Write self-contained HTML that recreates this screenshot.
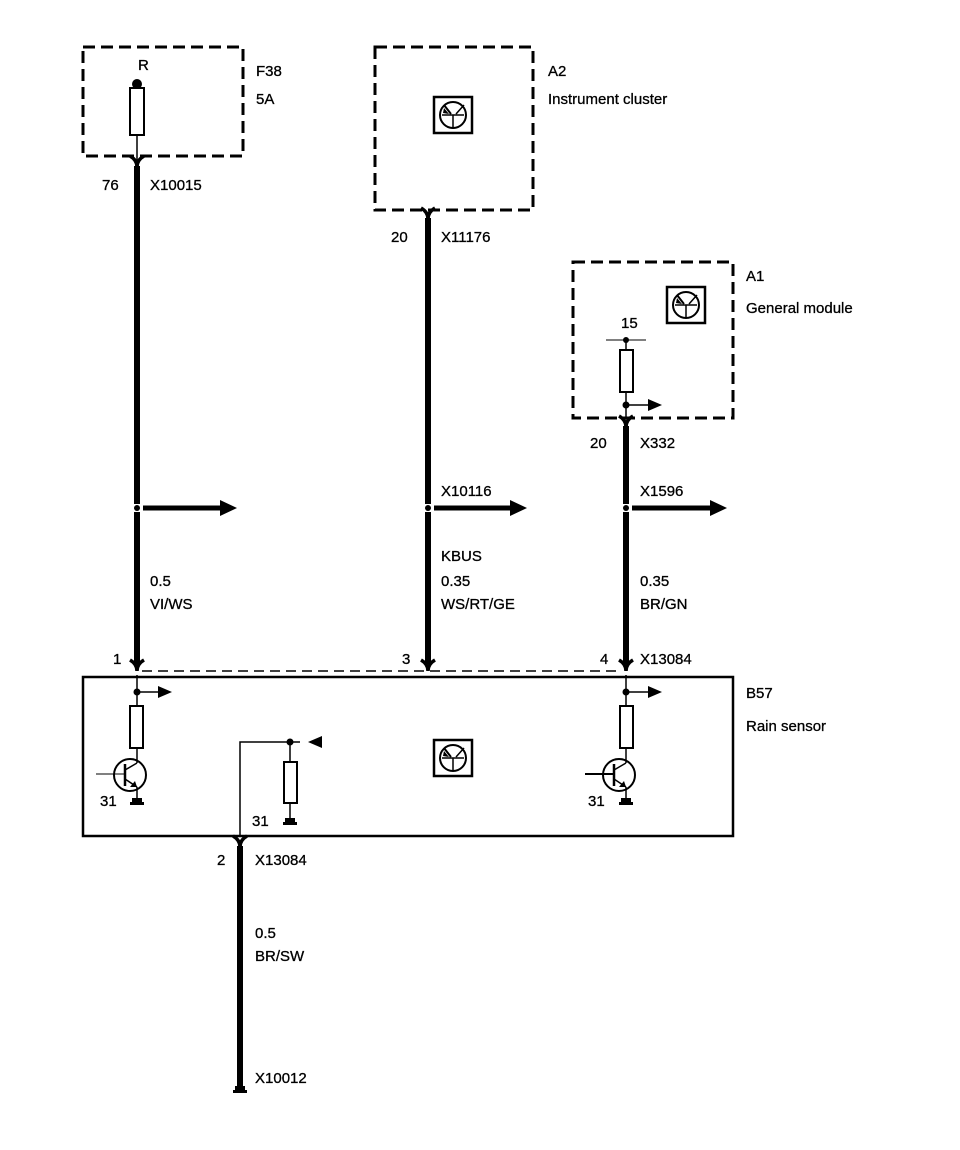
<!DOCTYPE html>
<html><head><meta charset="utf-8"><style>
html,body{margin:0;padding:0;background:#fff;}
svg{display:block;}
text{font-family:"Liberation Sans",sans-serif;font-size:15px;fill:#000;stroke:#000;stroke-width:0.3px;}
</style></head><body>
<svg width="960" height="1150" viewBox="0 0 960 1150" xmlns="http://www.w3.org/2000/svg">
<defs>
<g id="icon">
  <rect x="0" y="0" width="38" height="36" fill="none" stroke="#000" stroke-width="2.5"/>
  <circle cx="19" cy="18" r="13" fill="none" stroke="#000" stroke-width="2"/>
  <line x1="8" y1="18" x2="30" y2="18" stroke="#000" stroke-width="1.5"/>
  <line x1="19" y1="18" x2="19" y2="31" stroke="#000" stroke-width="1.5"/>
  <line x1="10" y1="8" x2="17" y2="17" stroke="#000" stroke-width="2"/>
  <line x1="30" y1="8" x2="22" y2="17" stroke="#000" stroke-width="1.5"/>
  <polygon points="10,11 15,17 9,16" fill="#000"/>
</g>
<g id="conn">
  <path d="M-7,-6 Q0,-2 0,5 Q0,-2 7,-6" fill="none" stroke="#000" stroke-width="3.5"/>
</g>
<g id="splice">
  <rect x="-4" y="-4" width="8" height="8" fill="#fff"/>
  <circle cx="0" cy="0" r="3" fill="#000"/>
</g>
</defs>
<g fill="none" stroke="#000">
  <rect x="83" y="47" width="160" height="109" stroke-width="3" stroke-dasharray="12,6"/>
  <rect x="375" y="47" width="158" height="163" stroke-width="3" stroke-dasharray="12,6"/>
  <rect x="573" y="262" width="160" height="156" stroke-width="3" stroke-dasharray="12,6"/>
  <rect x="83" y="677" width="650" height="159" stroke-width="2.5"/>
  <line x1="142" y1="671" x2="620" y2="671" stroke-width="1.5" stroke-dasharray="10,6"/>
  <rect x="130" y="88" width="14" height="47" stroke-width="2"/>
  <line x1="137" y1="135" x2="137" y2="160" stroke-width="1.5"/>
  <line x1="137" y1="166" x2="137" y2="664" stroke-width="6"/>
  <line x1="428" y1="218" x2="428" y2="664" stroke-width="6"/>
  <line x1="626" y1="426" x2="626" y2="664" stroke-width="6"/>
  <line x1="240" y1="846" x2="240" y2="1088" stroke-width="6"/>
  <line x1="143" y1="508" x2="222" y2="508" stroke-width="5"/>
  <line x1="434" y1="508" x2="512" y2="508" stroke-width="5"/>
  <line x1="632" y1="508" x2="712" y2="508" stroke-width="5"/>
  <line x1="606" y1="340" x2="646" y2="340" stroke-width="1"/>
  <line x1="626" y1="340" x2="626" y2="350" stroke-width="1.5"/>
  <rect x="620" y="350" width="13" height="42" stroke-width="2"/>
  <line x1="626" y1="392" x2="626" y2="418" stroke-width="1.5"/>
  <line x1="626" y1="405" x2="650" y2="405" stroke-width="1.5"/>
  <line x1="137" y1="675" x2="137" y2="706" stroke-width="1.5"/>
  <line x1="137" y1="692" x2="160" y2="692" stroke-width="1.5"/>
  <rect x="130" y="706" width="13" height="42" stroke-width="2"/>
  <line x1="137" y1="748" x2="137" y2="763" stroke-width="1.5"/>
  <circle cx="130" cy="775" r="16" stroke-width="2"/>
  <line x1="96" y1="774" x2="125" y2="774" stroke-width="1"/>
  <line x1="125" y1="764" x2="125" y2="786" stroke-width="2.5"/>
  <line x1="125" y1="770" x2="137" y2="763" stroke-width="1.5"/>
  <line x1="125" y1="779" x2="137" y2="787" stroke-width="1.5"/>
  <line x1="137" y1="787" x2="137" y2="800" stroke-width="1.5"/>
  <polyline points="240,836 240,742 300,742" stroke-width="1.5"/>
  <line x1="290" y1="742" x2="290" y2="762" stroke-width="1.5"/>
  <rect x="284" y="762" width="13" height="41" stroke-width="2"/>
  <line x1="290" y1="803" x2="290" y2="820" stroke-width="1.5"/>
  <line x1="626" y1="675" x2="626" y2="706" stroke-width="1.5"/>
  <line x1="626" y1="692" x2="650" y2="692" stroke-width="1.5"/>
  <rect x="620" y="706" width="13" height="42" stroke-width="2"/>
  <line x1="626" y1="748" x2="626" y2="763" stroke-width="1.5"/>
  <circle cx="619" cy="775" r="16" stroke-width="2"/>
  <line x1="585" y1="774" x2="614" y2="774" stroke-width="2"/>
  <line x1="614" y1="764" x2="614" y2="786" stroke-width="2.5"/>
  <line x1="614" y1="770" x2="626" y2="763" stroke-width="1.5"/>
  <line x1="614" y1="779" x2="626" y2="787" stroke-width="1.5"/>
  <line x1="626" y1="787" x2="626" y2="800" stroke-width="1.5"/>
</g>
<use href="#splice" x="137" y="508"/>
<use href="#splice" x="428" y="508"/>
<use href="#splice" x="626" y="508"/>
<g fill="#000">
  <circle cx="137" cy="84" r="5"/>
  <polygon points="220,500 237,508 220,516"/>
  <polygon points="510,500 527,508 510,516"/>
  <polygon points="710,500 727,508 710,516"/>
  <circle cx="626" cy="340" r="3"/><circle cx="626" cy="405" r="3.5"/>
  <polygon points="648,399 662,405 648,411"/>
  <circle cx="137" cy="692" r="3.5"/><polygon points="158,686 172,692 158,698"/>
  <circle cx="626" cy="692" r="3.5"/><polygon points="648,686 662,692 648,698"/>
  <circle cx="290" cy="742" r="3.5"/><polygon points="322,736 308,742 322,748"/>
  <rect x="132" y="798" width="10" height="5"/><rect x="130" y="802" width="14" height="3"/>
  <rect x="621" y="798" width="10" height="5"/><rect x="619" y="802" width="14" height="3"/>
  <rect x="285" y="818" width="10" height="5"/><rect x="283" y="822" width="14" height="3"/>
  <rect x="235" y="1086" width="10" height="5"/><rect x="233" y="1090" width="14" height="3"/>
  <polygon points="137,787 130,787 135,781"/>
  <polygon points="626,787 619,787 624,781"/>
</g>
<use href="#conn" x="137" y="162"/>
<use href="#conn" x="428" y="214"/>
<use href="#conn" x="626" y="422"/>
<use href="#conn" x="137" y="666"/>
<use href="#conn" x="428" y="666"/>
<use href="#conn" x="626" y="666"/>
<use href="#conn" x="240" y="842"/>
<use href="#icon" x="434" y="97"/>
<use href="#icon" x="667" y="287"/>
<use href="#icon" x="434" y="740"/>
<g>
  <text x="138" y="70">R</text>
  <text x="256" y="76">F38</text>
  <text x="256" y="104">5A</text>
  <text x="102" y="190">76</text>
  <text x="150" y="190">X10015</text>
  <text x="548" y="76">A2</text>
  <text x="548" y="104">Instrument cluster</text>
  <text x="391" y="242">20</text>
  <text x="441" y="242">X11176</text>
  <text x="746" y="281">A1</text>
  <text x="746" y="313">General module</text>
  <text x="621" y="328">15</text>
  <text x="590" y="448">20</text>
  <text x="640" y="448">X332</text>
  <text x="441" y="496">X10116</text>
  <text x="640" y="496">X1596</text>
  <text x="441" y="561">KBUS</text>
  <text x="150" y="586">0.5</text>
  <text x="150" y="609">VI/WS</text>
  <text x="441" y="586">0.35</text>
  <text x="441" y="609">WS/RT/GE</text>
  <text x="640" y="586">0.35</text>
  <text x="640" y="609">BR/GN</text>
  <text x="113" y="664">1</text>
  <text x="402" y="664">3</text>
  <text x="600" y="664">4</text>
  <text x="640" y="664">X13084</text>
  <text x="746" y="698">B57</text>
  <text x="746" y="731">Rain sensor</text>
  <text x="100" y="806">31</text>
  <text x="252" y="826">31</text>
  <text x="588" y="806">31</text>
  <text x="217" y="865">2</text>
  <text x="255" y="865">X13084</text>
  <text x="255" y="938">0.5</text>
  <text x="255" y="961">BR/SW</text>
  <text x="255" y="1083">X10012</text>
</g>
</svg>
</body></html>
